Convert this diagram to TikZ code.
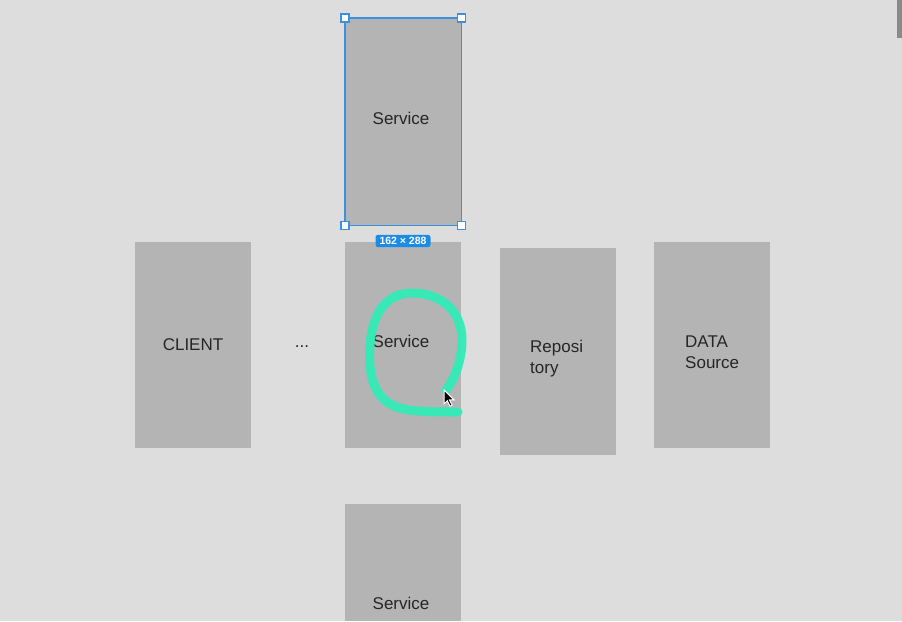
\documentclass[tikz,border=0pt]{standalone}
\usepackage{fontspec}
\setmainfont{Liberation Sans}
\definecolor{bgc}{HTML}{DDDDDD}
\definecolor{boxc}{HTML}{B4B4B4}
\definecolor{selc}{HTML}{3D8FE0}
\definecolor{tagc}{HTML}{1A8CE6}
\definecolor{markc}{HTML}{33EBB8}
\definecolor{barc}{HTML}{8A8A8A}
\tikzset{
  blk/.style={fill=boxc, draw=none, minimum width=116pt, inner sep=0pt, anchor=north west},
  lbl/.style={font=\fontsize{17}{21}\selectfont, text=black!85, inner sep=0pt},
  handle/.style={draw=selc, fill=white, line width=1.3pt, minimum size=8pt, inner sep=0pt},
}
\begin{document}
\begin{tikzpicture}[x=1pt,y=-1pt]
\useasboundingbox (0,0) rectangle (902,621);
\fill[bgc] (0,0) rectangle (902,621);
\fill[barc] (897,0) rectangle (902,38);
% boxes
\node[blk, minimum height=207pt] (top) at (345,18) {};
\draw[selc, line width=1.8pt] (top.north west) rectangle (top.south east);
\node[blk, minimum height=206pt] (client) at (135,242) {};
\node[blk, minimum height=206pt] (mid) at (345,242) {};
\node[blk, minimum height=207pt] (repo) at (500,248) {};
\node[blk, minimum height=206pt] (data) at (654,242) {};
\node[blk, minimum height=117pt] (bot) at (345,504) {};
% handles
\node[handle] (h1) at (top.north west) {};
\node[handle] (h2) at (top.north east) {};
\node[handle] (h3) at (top.south west) {};
\node[handle] (h4) at (top.south east) {};
% size tag
\node[fill=tagc, rounded corners=2.5pt, text=white, font=\fontsize{10.5}{11}\selectfont\bfseries, inner xsep=4pt, inner ysep=2.5pt] (tag) at (403,241) {162 × 288};
% labels
\node[lbl] (t1) at (401,118) {Service};
\node[lbl] (t2) at (193,345) {CLIENT};
\node[lbl] (dots) at (302,347) {...};
\node[lbl] (t3) at (401,341) {Service};
\node[lbl, align=left, anchor=west] (t4) at (530,359) {Reposi\\tory};
\node[lbl, align=left, anchor=west] (t5) at (685,352) {DATA\\Source};
\node[lbl] (t6) at (401,603) {Service};
% highlighter stroke
\draw[markc, line width=9pt, line cap=round, line join=round, opacity=0.95]
  (458,412) .. controls (430,412) and (405,412) .. (392,405)
  .. controls (372,395) and (368,370) .. (370,345)
  .. controls (372,315) and (385,293) .. (412,293)
  .. controls (440,293) and (462,310) .. (462,340)
  .. controls (462,360) and (455,378) .. (446,390);
% cursor
\coordinate (cur) at (444,390);
\draw[white, line width=1pt, fill=black] (cur) -- ++(0,14) -- ++(3.3,-3.3) -- ++(2.6,5.5) -- ++(2.2,-1) -- ++(-2.6,-5.3) -- ++(4.6,0) -- cycle;
\end{tikzpicture}
\end{document}
